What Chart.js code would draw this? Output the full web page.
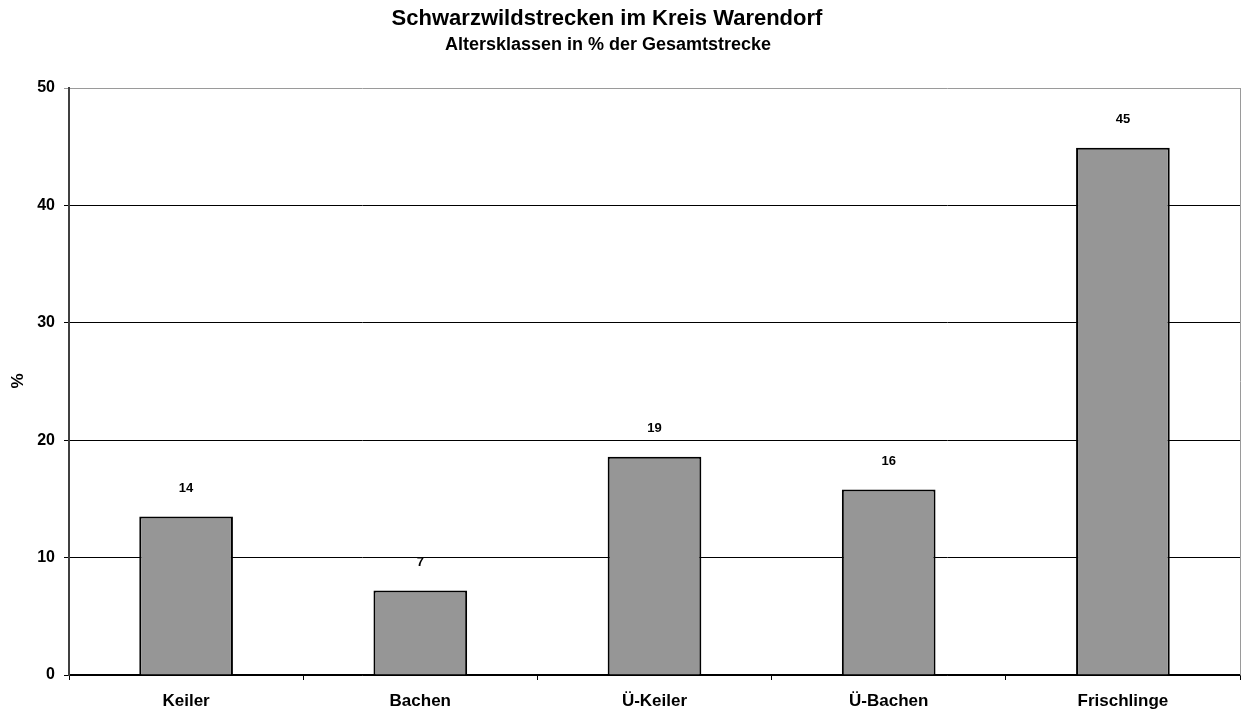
<!DOCTYPE html>
<html>
<head>
<meta charset="utf-8">
<script src="https://cdn.jsdelivr.net/npm/chart.js@4.4.1/dist/chart.umd.min.js"></script>
<style>
  html, body { margin: 0; padding: 0; background: #fff; }
  #chart { display: block; }
</style>
</head>
<body>
<canvas id="chart" width="1241" height="711"></canvas>
<script>
var categories = ['Keiler', 'Bachen', 'Ü-Keiler', 'Ü-Bachen', 'Frischlinge'];
var shares = [13.5, 7.2, 18.6, 15.8, 44.9];
var yTicks = [0, 10, 20, 30, 40, 50];
var title = 'Schwarzwildstrecken im Kreis Warendorf';
var subtitle = 'Altersklassen in % der Gesamtstrecke';

var FONT = '"Liberation Sans", Arial, sans-serif';

// titles, value labels and the gray frame on the right
var extras = {
	id: 'extras',
	afterDraw: function(c) {
		var g = c.ctx;
		var area = c.chartArea;
		g.save();
		g.fillStyle = '#000';
		g.textAlign = 'center';
		g.textBaseline = 'middle';
		g.font = 'bold 22px ' + FONT;
		g.fillText(title, 607, 19);
		g.font = 'bold 18px ' + FONT;
		g.fillText(subtitle, 608, 45);

		g.strokeStyle = '#9a9a9a';
		g.lineWidth = 1;
		g.beginPath();
		g.moveTo(area.right + 0.5, area.top);
		g.lineTo(area.right + 0.5, area.bottom);
		g.stroke();

		g.font = 'bold 13px ' + FONT;
		var meta = c.getDatasetMeta(0);
		meta.data.forEach(function(bar, i) {
			g.fillText(Math.round(shares[i]).toString(), bar.x, bar.y - 28);
		});

		g.translate(18, 381);
		g.rotate(-Math.PI / 2);
		g.font = 'bold 17px ' + FONT;
		g.fillText('%', 0, 0);
		g.restore();
	}
};

var ctx = document.getElementById('chart');
var chart = new Chart(ctx, {
	type: 'bar',
	data: {
		labels: categories,
		datasets: [{
			data: shares,
			backgroundColor: '#969696',
			borderColor: '#000',
			borderWidth: 2,
			barPercentage: 0.8,
			categoryPercentage: 0.5
		}]
	},
	options: {
		responsive: false,
		animation: false,
		layout: { padding: { top: 88, right: 1, left: 0, bottom: 0 } },
		plugins: {
			legend: { display: false },
			tooltip: { enabled: false }
		},
		scales: {
			x: {
				grid: {
					offset: true,
					drawOnChartArea: false,
					color: '#000',
					tickLength: 5
				},
				border: { color: '#000', width: 1.5 },
				ticks: {
					color: '#000',
					font: { family: FONT, size: 17, weight: 'bold' },
					padding: 11
				},
				afterFit: function(s) { s.height = 36; }
			},
			y: {
				min: 0,
				max: 50,
				afterBuildTicks: function(s) {
					s.ticks = yTicks.map(function(v) { return { value: v }; });
				},
				grid: {
					color: function(c) { return c.tick && c.tick.value === 50 ? '#9a9a9a' : '#000'; },
					lineWidth: 1,
					tickLength: 5
				},
				border: { color: '#404040', width: 2 },
				ticks: {
					color: '#000',
					font: { family: FONT, size: 16, weight: 'bold' },
					padding: 9
				},
				afterFit: function(s) { s.width = 69; }
			}
		}
	},
	plugins: [extras]
});
</script>
</body>
</html>
